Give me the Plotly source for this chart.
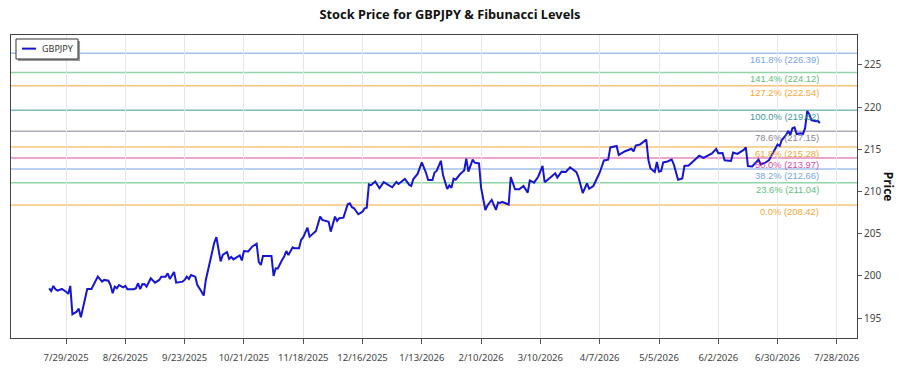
import plotly.graph_objects as go
import pandas as pd

# ---------------- data ----------------
dates = [
    "2025-07-21","2025-07-22","2025-07-23","2025-07-24","2025-07-25","2025-07-27","2025-07-29","2025-07-30","2025-07-31","2025-08-01",
    "2025-08-03","2025-08-04","2025-08-05","2025-08-06","2025-08-07","2025-08-08","2025-08-10","2025-08-11","2025-08-13","2025-08-15",
    "2025-08-16","2025-08-18","2025-08-19","2025-08-20","2025-08-21","2025-08-22","2025-08-23","2025-08-25","2025-08-26","2025-08-27",
    "2025-08-30","2025-08-31","2025-09-01","2025-09-02","2025-09-03","2025-09-04","2025-09-05","2025-09-07","2025-09-09","2025-09-11",
    "2025-09-12","2025-09-14","2025-09-15","2025-09-16","2025-09-18","2025-09-19","2025-09-22","2025-09-23","2025-09-24","2025-09-25",
    "2025-09-26","2025-09-28","2025-09-29","2025-10-01","2025-10-02","2025-10-03","2025-10-05","2025-10-07","2025-10-08","2025-10-10",
    "2025-10-11","2025-10-13","2025-10-14","2025-10-15","2025-10-16","2025-10-19","2025-10-20","2025-10-21","2025-10-23","2025-10-25",
    "2025-10-27","2025-10-28","2025-10-29","2025-10-30","2025-11-03","2025-11-04","2025-11-05","2025-11-06","2025-11-08","2025-11-09",
    "2025-11-10","2025-11-11","2025-11-13","2025-11-14","2025-11-16","2025-11-17","2025-11-18","2025-11-20","2025-11-21","2025-11-23",
    "2025-11-24","2025-11-26","2025-11-27","2025-11-30","2025-12-01","2025-12-03","2025-12-04","2025-12-05","2025-12-07","2025-12-09",
    "2025-12-10","2025-12-11","2025-12-12","2025-12-14","2025-12-16","2025-12-17","2025-12-18","2025-12-19","2025-12-20","2025-12-22",
    "2025-12-24","2025-12-26","2025-12-30","2026-01-01","2026-01-02","2026-01-05","2026-01-07","2026-01-08","2026-01-09","2026-01-11",
    "2026-01-13","2026-01-15","2026-01-16","2026-01-18","2026-01-19","2026-01-20","2026-01-22","2026-01-23","2026-01-25","2026-01-26",
    "2026-01-27","2026-01-28","2026-01-29","2026-01-31","2026-02-02","2026-02-03","2026-02-04","2026-02-06","2026-02-07","2026-02-09",
    "2026-02-10","2026-02-12","2026-02-13","2026-02-15","2026-02-17","2026-02-18","2026-02-19","2026-02-20","2026-02-23","2026-02-24",
    "2026-02-26","2026-02-28","2026-03-02","2026-03-04","2026-03-05","2026-03-07","2026-03-09","2026-03-11","2026-03-12","2026-03-15",
    "2026-03-17","2026-03-18","2026-03-20","2026-03-22","2026-03-24","2026-03-27","2026-03-28","2026-03-30","2026-04-01","2026-04-02",
    "2026-04-04","2026-04-06","2026-04-07","2026-04-09","2026-04-11","2026-04-12","2026-04-15","2026-04-16","2026-04-19","2026-04-22",
    "2026-04-23","2026-04-24","2026-04-26","2026-04-29","2026-04-30","2026-05-01","2026-05-03","2026-05-04","2026-05-05","2026-05-06",
    "2026-05-07","2026-05-09","2026-05-11","2026-05-12","2026-05-13","2026-05-14","2026-05-16","2026-05-17","2026-05-19","2026-05-21",
    "2026-05-24","2026-05-26","2026-05-28","2026-05-30","2026-06-01","2026-06-02","2026-06-04","2026-06-05","2026-06-08","2026-06-09",
    "2026-06-11","2026-06-14","2026-06-15","2026-06-16","2026-06-18","2026-06-19","2026-06-21","2026-06-22","2026-06-24","2026-06-26",
    "2026-06-27","2026-06-29","2026-06-30","2026-07-01","2026-07-02","2026-07-04","2026-07-05","2026-07-06","2026-07-07","2026-07-08",
    "2026-07-09","2026-07-11","2026-07-12","2026-07-13","2026-07-14","2026-07-15","2026-07-16","2026-07-18","2026-07-19","2026-07-20",
]
prices = [
    198.54,198.22,198.82,198.43,198.26,198.46,198.14,197.87,198.82,195.46,
    195.77,196.13,195.11,196.36,197.36,198.46,198.46,198.93,199.92,199.33,
    199.53,199.44,198.93,197.95,198.73,198.54,198.93,198.66,198.82,198.43,
    198.43,198.54,199.14,198.43,199.02,199.05,198.73,199.73,199.21,199.53,
    199.92,199.92,200.32,199.65,200.48,199.21,199.33,199.53,199.92,199.65,
    200.12,199.92,198.93,198.14,197.67,199.53,201.90,203.95,204.59,201.72,
    202.49,202.84,202.02,202.25,201.96,202.43,201.84,202.96,202.90,203.50,
    203.82,201.66,201.30,202.37,202.37,200.00,200.91,200.89,201.90,202.29,
    202.96,202.49,203.40,203.28,203.28,204.27,204.59,205.72,204.66,205.18,
    205.33,207.03,206.64,206.43,205.25,207.03,206.52,206.84,206.91,208.50,
    208.61,208.14,208.02,207.31,207.62,208.02,208.09,210.84,210.75,211.20,
    210.39,211.11,210.51,211.14,210.90,211.49,210.82,210.66,211.49,212.09,
    213.47,212.20,211.37,211.37,212.26,212.44,213.65,211.97,210.31,210.72,
    210.46,211.53,211.41,212.05,212.50,213.90,212.36,213.78,213.42,213.33,
    210.43,207.82,208.35,209.01,207.82,208.71,208.65,208.77,208.47,211.73,
    210.27,210.27,210.66,209.87,211.32,211.06,211.79,213.03,211.11,211.73,
    212.17,211.67,212.36,212.32,212.88,212.30,211.67,209.83,210.96,210.33,
    210.66,211.73,212.26,213.69,213.78,215.23,215.40,214.34,214.78,215.07,
    214.75,215.46,215.58,216.15,213.74,212.74,212.32,213.51,212.36,212.44,
    213.45,213.57,213.80,213.21,212.44,211.41,211.55,213.03,213.09,213.57,
    214.25,213.98,214.22,214.51,215.05,214.54,214.57,213.71,213.63,214.63,
    214.46,214.93,215.23,213.03,212.97,213.27,213.80,213.21,213.39,213.74,
    214.22,215.13,215.58,215.40,216.11,216.71,217.18,216.71,217.50,217.60,
    216.82,216.91,216.82,217.54,219.55,219.14,218.45,218.34,218.37,218.13,
]

fib_pct = ["161.8%", "141.4%", "127.2%", "100.0%", "78.6%", "61.8%", "50.0%", "38.2%", "23.6%", "0.0%"]
fib_vals = [226.39, 224.12, 222.54, 219.62, 217.15, 215.28, 213.97, 212.66, 211.04, 208.42]
fib_colors = ["#6a9be0", "#4db870", "#f39c24", "#2a9090", "#7a7a8a",
              "#f0a020", "#d6389c", "#6a9be0", "#4db870", "#f39c24"]

tick_dates = pd.date_range("2025-07-29", periods=14, freq="28D")
tick_labels = [f"{d.month}/{d.day}/{d.year}" for d in tick_dates]
y_ticks = [195, 200, 205, 210, 215, 220, 225]

x_range = ["2025-07-03", "2026-08-06 12:00"]
y_range = [192.65, 228.55]

series_name = "GBPJPY"
line_color = "#1616d2"

# ---------------- figure ----------------
FONT = "Noto Sans"
LABEL_FONT = "Liberation Sans"
fig = go.Figure()

for pct, val, col in zip(fib_pct, fib_vals, fib_colors):
    fig.add_shape(type="line", xref="paper", x0=0, x1=1, yref="y", y0=val, y1=val,
                  line=dict(color=col, width=1.5), opacity=0.6, layer="below")
    fig.add_annotation(x=dates[-1], y=val, xref="x", yref="y", xanchor="right", yanchor="top",
                       text=f"{pct} ({val:.2f})", showarrow=False, borderpad=0,
                       font=dict(family=LABEL_FONT, size=9.4, color=col), opacity=0.9)

fig.add_trace(go.Scatter(x=pd.to_datetime(dates), y=prices, mode="lines", name=series_name,
                         showlegend=False, line=dict(color=line_color, width=2)))

# legend box (drawn as shapes + text to match the compact reference legend)
fig.add_shape(type="rect", xref="paper", yref="paper", x0=0.0083, x1=0.0816, y0=0.9142, y1=0.9802,
              fillcolor="#999", line=dict(width=0), layer="above")
fig.add_shape(type="rect", xref="paper", yref="paper", x0=0.0059, x1=0.0792, y0=0.9208, y1=0.9868,
              fillcolor="white", line=dict(color="#333", width=1), layer="above")
fig.add_shape(type="line", xref="paper", yref="paper", x0=0.0130, x1=0.0296, y0=0.9550, y1=0.9550,
              line=dict(color=line_color, width=2), layer="above")
fig.add_annotation(text=series_name, xref="paper", yref="paper", x=0.0340, y=0.9550,
                   xanchor="left", yanchor="middle", showarrow=False,
                   font=dict(family=FONT, size=9, color="#333"))

fig.add_annotation(text="<b>Price</b>", xref="paper", yref="paper", x=1.0375, y=0.5,
                   xanchor="center", yanchor="middle", textangle=90, showarrow=False,
                   font=dict(family=FONT, size=12, color="#111"))

fig.update_layout(
    width=900, height=375,
    margin=dict(l=11, r=43, t=35, b=37),
    paper_bgcolor="white", plot_bgcolor="white",
    title=dict(text="<b>Stock Price for GBPJPY & Fibunacci Levels</b>", x=0.5, xanchor="center",
               y=0.96, yanchor="middle", font=dict(family=FONT, size=12.8, color="#111")),
    showlegend=False,
    xaxis=dict(type="date", range=x_range, tickvals=tick_dates, ticktext=tick_labels,
               ticks="outside", ticklen=5, tickcolor="#555", ticklabelstandoff=6,
               showgrid=True, gridcolor="#e6e6e6", gridwidth=1,
               showline=True, linecolor="#444", linewidth=1, mirror=True,
               tickfont=dict(family=FONT, size=9.5, color="#444")),
    yaxis=dict(side="right", range=y_range, tickvals=y_ticks, ticks="outside", ticklen=4,
               tickcolor="#555", showgrid=False, zeroline=False,
               showline=True, linecolor="#444", linewidth=1, mirror=True,
               tickfont=dict(family=FONT, size=10, color="#444")),
)

fig.write_html("out.html")
